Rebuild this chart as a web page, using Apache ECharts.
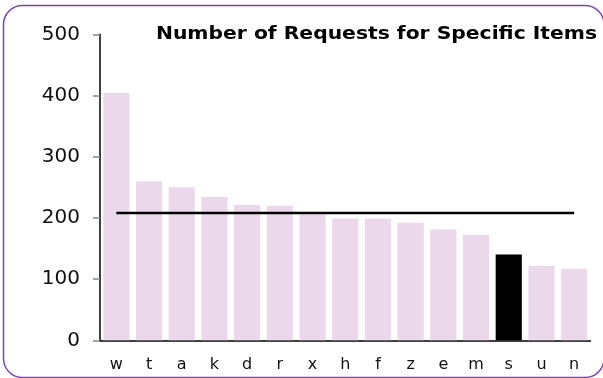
<!DOCTYPE html>
<html>
<head>
<meta charset="utf-8">
<script src="https://cdn.jsdelivr.net/npm/echarts@6/dist/echarts.min.js"></script>
<style>
  html, body { margin: 0; padding: 0; background: #ffffff; }
  #chart { width: 603px; height: 378px; }
</style>
</head>
<body>
<div id="chart"></div>
<script>
// Items, ordered by request count
var categories = ['w', 't', 'a', 'k', 'd', 'r', 'x', 'h', 'f', 'z', 'e', 'm', 's', 'u', 'n'];
var requests = [404, 260, 250, 234, 221, 220, 206, 199, 199, 192, 181, 172, 140, 122, 117];
var highlightItem = 's';
var averageRequests = 208;
var yTicks = [0, 100, 200, 300, 400, 500];
var chartTitle = 'Number of Requests for Specific Items';

var barColor = '#ebd9eb';
var highlightColor = '#000000';

var barData = categories.map(function (c, i) {
  return {
    value: requests[i],
    itemStyle: { color: c === highlightItem ? highlightColor : barColor }
  };
});
var avgData = categories.map(function () { return averageRequests; });

var chart = echarts.init(document.getElementById('chart'), null, { renderer: 'canvas' });
chart.setOption({
  animation: false,
  backgroundColor: '#ffffff',
  graphic: [
    {
      // rounded frame around the whole chart
      type: 'rect',
      shape: { x: 3.5, y: 5.5, width: 600.5, height: 372, r: 19 },
      style: { fill: 'none', stroke: '#7a45b3', lineWidth: 1.5 },
      silent: true,
      z: -1
    },
    {
      // wide bold heading, anchored at its right end
      type: 'text',
      x: 597,
      y: 34.5,
      scaleX: 1.16,
      style: {
        text: chartTitle,
        x: 0,
        y: 0,
        align: 'right',
        verticalAlign: 'middle',
        fontFamily: 'DejaVu Sans',
        fontWeight: 'bold',
        fontSize: 17.5,
        fill: '#000000'
      },
      silent: true,
      z: 10
    }
  ],
  grid: { left: 100, right: 12.5, top: 34.3, bottom: 37.7 },
  xAxis: {
    type: 'category',
    data: categories,
    axisLine: { show: true, lineStyle: { color: '#000000', width: 1.5 } },
    axisTick: { show: false },
    axisLabel: {
      fontFamily: 'DejaVu Sans',
      fontSize: 16,
      color: '#111111',
      margin: 17
    }
  },
  yAxis: {
    type: 'value',
    min: yTicks[0],
    max: yTicks[yTicks.length - 1],
    interval: 100,
    splitLine: { show: false },
    axisLine: { show: true, lineStyle: { color: '#000000', width: 1.5 } },
    axisTick: { show: true, length: 7, lineStyle: { color: '#888888', width: 1.5 } },
    axisLabel: {
      fontFamily: 'DejaVu Sans',
      fontSize: 20,
      color: '#111111',
      margin: 20
    }
  },
  series: [
    {
      type: 'bar',
      data: barData,
      barCategoryGap: '20%',
      z: 1
    },
    {
      type: 'line',
      data: avgData,
      symbol: 'none',
      lineStyle: { color: '#000000', width: 2.5 },
      z: 3
    }
  ]
});
</script>
</body>
</html>
